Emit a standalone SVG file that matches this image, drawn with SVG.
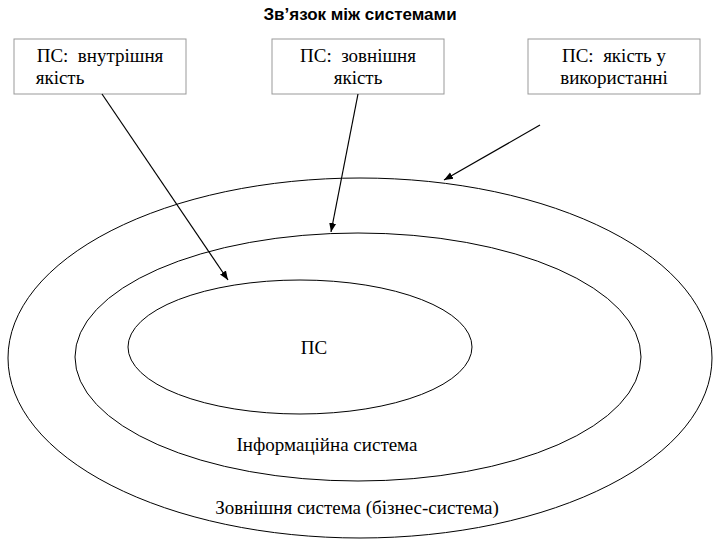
<svg xmlns="http://www.w3.org/2000/svg" width="720" height="540" viewBox="0 0 720 540">
<style>
.box{fill:#fff;stroke:#999;stroke-width:1}
.ell{fill:none;stroke:#000;stroke-width:1}
.t{font-family:"Liberation Serif",serif;font-size:19px;fill:#000;white-space:pre}
.c{stroke:#000;stroke-width:1.2;fill:none;marker-end:url(#a)}
</style>
<defs><marker id="a" viewBox="0 0 10 10" refX="10" refY="5" markerWidth="9" markerHeight="9" orient="auto" markerUnits="userSpaceOnUse"><path d="M0,1 L10,5 L0,9 z" fill="#000"/></marker></defs>
<rect width="720" height="540" fill="#fff"/>
<text x="360" y="20" text-anchor="middle" font-family="Liberation Sans,sans-serif" font-weight="bold" font-size="17">Зв’язок між системами</text>
<g id="outer"><ellipse class="ell" cx="360" cy="358" rx="352" ry="180"/><text class="t" x="357" y="514" text-anchor="middle">Зовнішня система (бізнес-система)</text></g>
<g id="middle"><ellipse class="ell" cx="358" cy="357" rx="283" ry="124"/><text class="t" x="327" y="451" text-anchor="middle">Інформаційна система</text></g>
<g id="inner"><ellipse class="ell" cx="300" cy="347" rx="172" ry="67"/><text class="t" x="314" y="354" text-anchor="middle">ПС</text></g>
<g id="b1"><rect class="box" x="14" y="39" width="172" height="55"/><text class="t" x="100" y="62" text-anchor="middle" xml:space="preserve">ПС:  внутрішня</text><text class="t" x="60" y="84" text-anchor="middle">якість</text></g>
<g id="b2"><rect class="box" x="272" y="39" width="172" height="55"/><text class="t" x="358" y="62" text-anchor="middle" xml:space="preserve">ПС:  зовнішня</text><text class="t" x="358" y="84" text-anchor="middle">якість</text></g>
<g id="b3"><rect class="box" x="528" y="39" width="172" height="55"/><text class="t" x="614" y="62" text-anchor="middle" xml:space="preserve">ПС:  якість у</text><text class="t" x="614" y="84" text-anchor="middle">використанні</text></g>
<g id="connectors">
<line class="c" x1="102" y1="94" x2="228" y2="280"/>
<line class="c" x1="358" y1="94" x2="331" y2="232"/>
<line class="c" x1="540" y1="125" x2="444" y2="180"/>
</g>
</svg>
